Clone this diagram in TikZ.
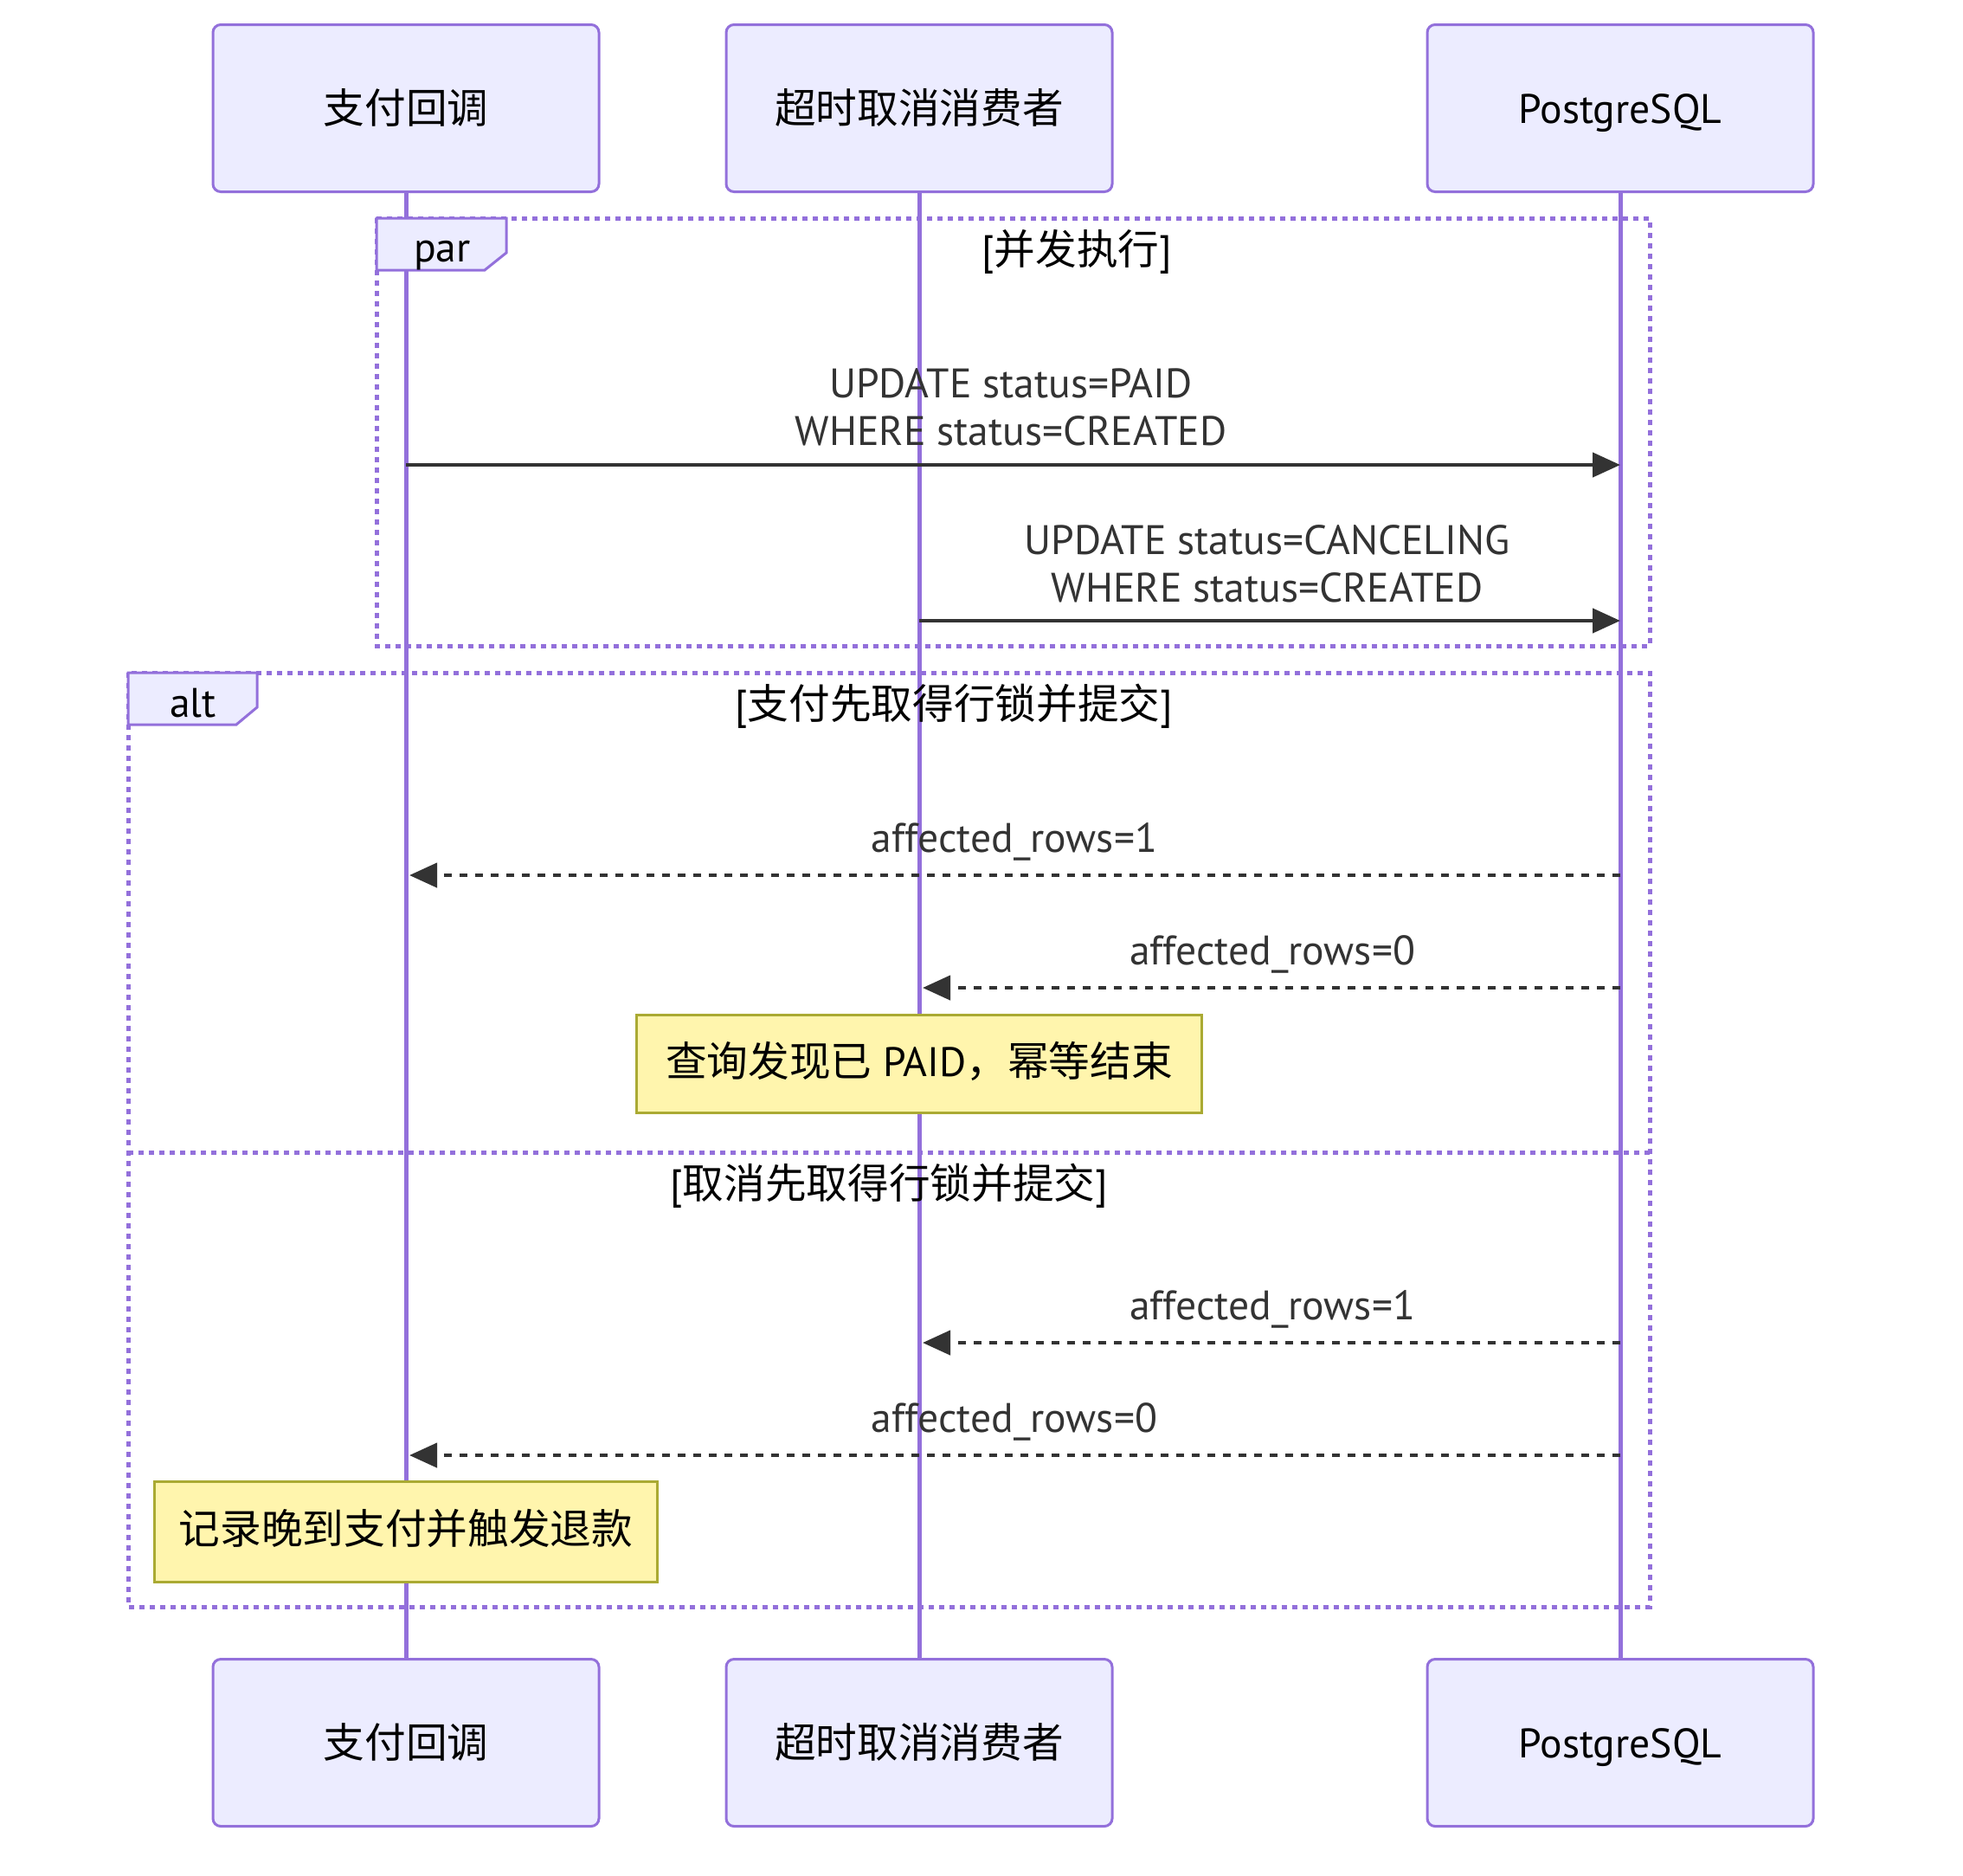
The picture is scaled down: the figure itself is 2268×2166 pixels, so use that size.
\documentclass[tikz,border=0pt]{standalone}
\usepackage{fontspec}
\setmainfont{PT Sans}
\newfontfamily\cjk{Noto Sans CJK SC}
\usetikzlibrary{arrows.meta}
\definecolor{actfill}{HTML}{ECECFF}
\definecolor{actline}{HTML}{9370DB}
\definecolor{txt}{HTML}{333333}
\definecolor{notefill}{HTML}{FFF5AD}
\definecolor{noteline}{HTML}{AAAA33}
\begin{document}
\begin{tikzpicture}[x=0.3pt,y=-0.3pt, font=\fontsize{14.3}{17}\selectfont,
 actor/.style={draw=actline, fill=actfill, line width=0.9pt, rounded corners=2.7pt, minimum width=133.8pt, minimum height=57.9pt, inner sep=0pt, text height=12.5pt, text depth=2pt},
 life/.style={draw=actline, line width=1.5pt},
 msg/.style={draw=txt, line width=1.3pt, -{Triangle[length=9.6pt,width=8.4pt]}},
 reply/.style={msg, dash pattern=on 2.7pt off 2.7pt},
 mlabel/.style={text=txt, inner sep=0pt, anchor=base},
 frame/.style={draw=actline, line width=1.5pt, dash pattern=on 1.8pt off 1.8pt},
 flabel/.style={draw=actline, fill=actfill, line width=0.9pt},
 ftext/.style={text=black, inner sep=0pt, anchor=base},
 note/.style={draw=noteline, fill=notefill, line width=0.9pt, inner sep=0pt, text=black, text height=11pt, text depth=2.5pt}]

\useasboundingbox (0,0) rectangle (2268,2166);

% actors
\node[actor] (a1) at (469,125) {\cjk 支付回调};
\node[actor] (a2) at (1062,125) {\cjk 超时取消消费者};
\node[actor] (a3) at (1872,125) {PostgreSQL};
\node[actor] (b1) at (469,2013) {\cjk 支付回调};
\node[actor] (b2) at (1062,2013) {\cjk 超时取消消费者};
\node[actor] (b3) at (1872,2013) {PostgreSQL};

% lifelines
\draw[life] (a1.south) -- (b1.north);
\draw[life] (a2.south) -- (b2.north);
\draw[life] (a3.south) -- (b3.north);

% frames
\draw[frame] (435,252) rectangle (1906,746);
\draw[frame] (148,777) rectangle (1906,1856);
\draw[frame] (148,1331) -- (1906,1331);
\draw[flabel] (435,252) -- (585,252) -- (585,292) -- (560,312) -- (435,312) -- cycle;
\draw[flabel] (148,777) -- (297,777) -- (297,817) -- (273,837) -- (148,837) -- cycle;
\node[ftext] (fpar) at (511,302) {par};
\node[ftext] (falt) at (223,828) {alt};
\node[ftext] (fparc) at (1244,305) {[{\cjk 并发执行}]};
\node[ftext] (falt1) at (1102,830) {[{\cjk 支付先取得行锁并提交}]};
\node[ftext] (falt2) at (1027,1384) {[{\cjk 取消先取得行锁并提交}]};

% message end points on lifelines
\coordinate (p1s) at (a1 |- 0,537);  \coordinate (p1e) at (a3 |- 0,537);
\coordinate (p2s) at (a2 |- 0,717);  \coordinate (p2e) at (a3 |- 0,717);
\coordinate (p3s) at (a3 |- 0,1011); \coordinate (p3e) at (a1 |- 0,1011);
\coordinate (p4s) at (a3 |- 0,1141); \coordinate (p4e) at (a2 |- 0,1141);
\coordinate (p5s) at (a3 |- 0,1551); \coordinate (p5e) at (a2 |- 0,1551);
\coordinate (p6s) at (a3 |- 0,1681); \coordinate (p6e) at (a1 |- 0,1681);

% messages
\node[mlabel] (l1a) at (1168,459) {UPDATE status=PAID};
\node[mlabel] (l1b) at (1168,514) {WHERE status=CREATED};
\draw[msg] (p1s) -- (p1e);
\node[mlabel] (l2a) at (1464,640) {UPDATE status=CANCELING};
\node[mlabel] (l2b) at (1464,695) {WHERE status=CREATED};
\draw[msg] (p2s) -- (p2e);

\node[mlabel] (l3) at (1172,984) {affected\_rows=1};
\draw[reply] (p3s) -- ([xshift=1.2pt]p3e);
\node[mlabel] (l4) at (1470,1114) {affected\_rows=0};
\draw[reply] (p4s) -- ([xshift=1.2pt]p4e);

\node[note, minimum width=195.9pt, minimum height=33.9pt] (n1) at (1062,1229) {{\cjk 查询发现已} PAID{\cjk ，幂等结束}};

\node[mlabel] (l5) at (1470,1524) {affected\_rows=1};
\draw[reply] (p5s) -- ([xshift=1.2pt]p5e);
\node[mlabel] (l6) at (1172,1654) {affected\_rows=0};
\draw[reply] (p6s) -- ([xshift=1.2pt]p6e);

\node[note, minimum width=174.3pt, minimum height=34.8pt] (n2) at (469,1769) {\cjk 记录晚到支付并触发退款};
\end{tikzpicture}
\end{document}
